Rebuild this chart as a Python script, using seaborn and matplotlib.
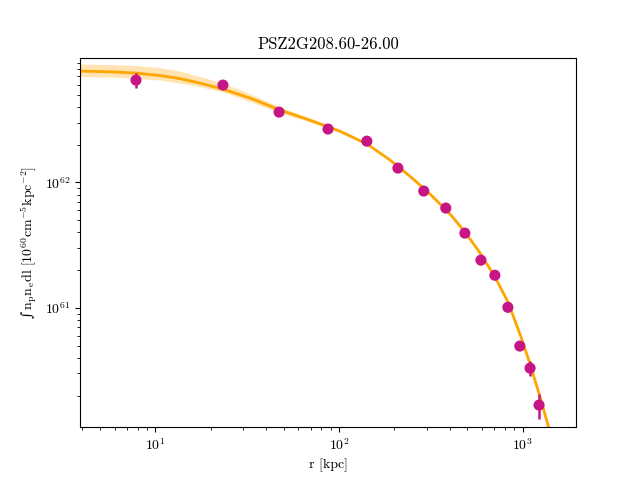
import numpy as np
import pandas as pd
import seaborn as sns
import matplotlib
matplotlib.use("Agg")
import matplotlib.pyplot as plt

plt.rcParams["font.family"] = "serif"
plt.rcParams["font.serif"] = ["cmr10", "DejaVu Serif"]
plt.rcParams["mathtext.fontset"] = "cm"
plt.rcParams["axes.formatter.use_mathtext"] = True

title = "PSZ2G208.60-26.00"

# observed profile
r_obs = [7.83, 23.3, 47.1, 87.0, 141.6, 209, 289, 381, 484, 592, 705, 830, 964, 1096, 1227]
y_obs = [6.53e62, 5.96e62, 3.63e62, 2.66e62, 2.13e62, 1.30e62, 8.53e61, 6.24e61,
         3.94e61, 2.40e61, 1.82e61, 1.01e61, 4.96e60, 3.31e60, 1.68e60]
y_err = [0.85e62, 0.10e62, 0.06e62, 0.04e62, 0.03e62, 0.02e62, 1.2e60, 1.0e60,
         0.8e60, 0.6e60, 0.5e60, 0.4e60, 0.3e60, 0.43e60, 0.38e60]

# model curve
r_mod = [3.88, 5.65, 7.83, 10.58, 13.6, 17.5, 23.3, 32.7, 47.7, 69.4, 101, 142, 189,
         243, 313, 402, 485, 585, 707, 832, 979, 1096, 1243, 1408, 1596]
y_mod = [7.71e62, 7.60e62, 7.43e62, 7.10e62, 6.71e62, 6.18e62, 5.53e62, 4.70e62,
         3.77e62, 3.13e62, 2.56e62, 2.02e62, 1.51e62, 1.12e62, 8.07e61, 5.59e61,
         4.02e61, 2.74e61, 1.76e61, 1.11e61, 5.85e60, 3.57e60, 1.95e60, 1.02e60, 5.4e59]

# model uncertainty band (inner region)
r_band = [3.88, 5.65, 7.83, 10.58, 13.6, 17.5, 23.3, 32.7, 47.7, 69.4, 101, 142]
band_hi = [8.77e62, 8.69e62, 8.53e62, 8.22e62, 7.71e62, 6.97e62, 6.18e62, 5.10e62,
           3.98e62, 3.25e62, 2.64e62, 2.06e62]
band_lo = [6.97e62, 6.90e62, 6.77e62, 6.53e62, 6.18e62, 5.79e62, 5.25e62, 4.41e62,
           3.56e62, 3.02e62, 2.49e62, 1.98e62]

df_mod = pd.DataFrame({"r": r_mod, "y": y_mod})
df_obs = pd.DataFrame({"r": r_obs, "y": y_obs, "err": y_err})

fig, ax = plt.subplots(figsize=(6.4, 4.8), dpi=100)

ax.fill_between(r_band, band_lo, band_hi, color="orange", alpha=0.3, lw=0)
sns.lineplot(data=df_mod, x="r", y="y", color="orange", linewidth=2,
             estimator=None, sort=False, ax=ax)
ax.errorbar(df_obs["r"], df_obs["y"], yerr=df_obs["err"], fmt="none",
            ecolor="mediumvioletred", elinewidth=1.8, zorder=4)
sns.scatterplot(data=df_obs, x="r", y="y", color="mediumvioletred", s=64,
                edgecolor="none", zorder=5, ax=ax)

ax.set_xscale("log")
ax.set_yscale("log")
ax.set_xlim(3.88, 1950)
ax.set_ylim(1.12e60, 9.87e62)
ax.set_title(title)
ax.set_xlabel("r [kpc]")
ax.set_ylabel("\u222b$\\,\\mathrm{n_p n_e dl}\\ [10^{60}\\mathrm{cm^{-5}kpc^{-2}}]$",
              fontfamily="DejaVu Serif")

fig.savefig("out.png", dpi=100)
